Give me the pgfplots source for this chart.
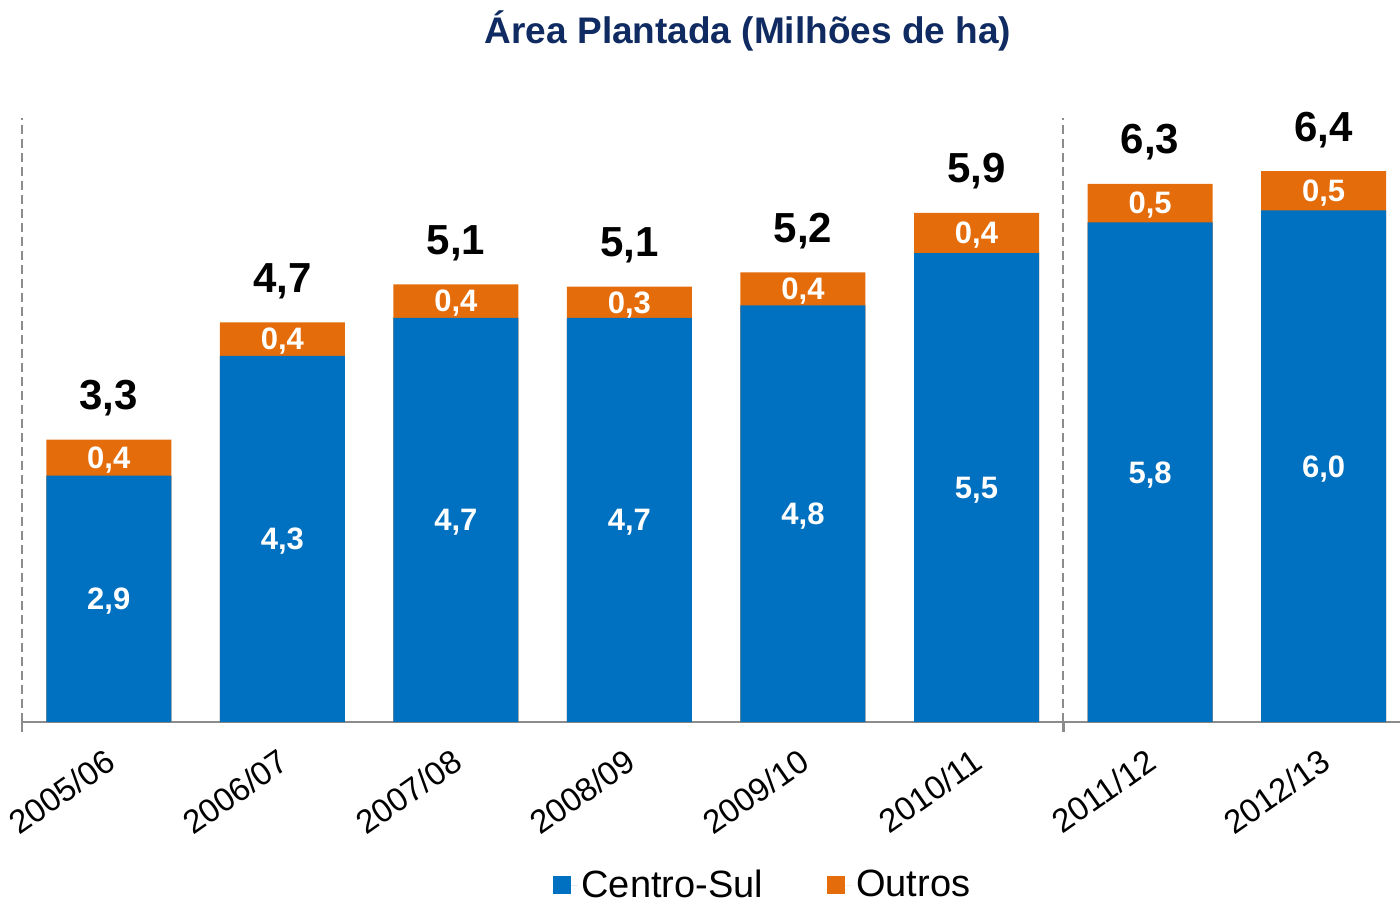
\documentclass[border=0pt]{standalone}
\usepackage{pgfplots}
\pgfplotsset{compat=1.18}
\usepackage{pgfplotstable}
\usepackage{fontspec}
\setmainfont{Liberation Sans}
\definecolor{csblue}{HTML}{0070C0}
\definecolor{ouorange}{HTML}{E46C0A}
\definecolor{titleblue}{HTML}{0F2B61}
\definecolor{axgray}{HTML}{8C8C8C}

\pgfplotstableread{
x cs cslab ou oulab tot totlab
0 2.88 2,9 0.42 0,4 3.30 3,3
1 4.28 4,3 0.39 0,4 4.67 4,7
2 4.725 4,7 0.39 0,4 5.115 5,1
3 4.725 4,7 0.363 0,3 5.088 5,1
4 4.87 4,8 0.385 0,4 5.255 5,2
5 5.48 5,5 0.47 0,4 5.95 5,9
6 5.84 5,8 0.45 0,5 6.29 6,3
7 5.98 6,0 0.46 0,5 6.44 6,4
}\data

\begin{document}
\begin{tikzpicture}
\path[use as bounding box] (0,0) rectangle (700pt,452pt);
\begin{axis}[
  at={(11pt,91pt)}, anchor=south west,
  scale only axis, width=689pt, height=302pt,
  ybar, bar width=62.5pt, bar shift=0pt,
  xmin=-0.5, xmax=7.44, ymin=0, ymax=7.06,
  axis x line*=bottom, axis y line=none,
  x axis line style={draw=axgray, line width=1.2pt},
  xtick={0,...,7},
  xticklabels={2005/06,2006/07,2007/08,2008/09,2009/10,2010/11,2011/12,2012/13},
  major tick length=0pt,
  xticklabel style={rotate=35, anchor=north east, font=\fontsize{16.5}{19}\selectfont, yshift=-5.5pt, xshift=-6pt},
  ytick=\empty,
  clip=false,
  legend columns=2,
  legend style={at={(axis description cs:0.538,-0.27)}, anchor=center, draw=none, fill=none,
    font=\fontsize{19}{22}\selectfont, /tikz/every even column/.append style={column sep=30pt}},
  legend image code/.code={\fill[#1] (0pt,-4.5pt) rectangle (9pt,4.5pt); \path (0pt,0pt) -- (12.5pt,0pt);},
  seglabel/.style={draw=none, fill=none, forget plot, point meta=explicit symbolic, nodes near coords,
    every node near coord/.append style={anchor=center, text=white, text depth=0pt, inner sep=0pt,
      font=\bfseries\fontsize{15.5}{18}\selectfont}},
]
% Outros sits on top of Centro-Sul: drawn from 0 to the total, Centro-Sul over it
\addplot[fill=ouorange, draw=none, forget plot] table[x=x, y=tot]{\data};
\addplot[fill=csblue, draw=none, forget plot] table[x=x, y=cs]{\data};
\addplot[seglabel] table[x=x, y expr=0.5*\thisrow{cs}, meta=cslab]{\data};
\addplot[seglabel] table[x=x, y expr=\thisrow{cs}+0.5*\thisrow{ou}, meta=oulab]{\data};
\addplot[draw=none, fill=none, forget plot, point meta=explicit symbolic, nodes near coords,
  every node near coord/.append style={anchor=base, inner sep=0pt, yshift=15pt, text=black,
    font=\bfseries\fontsize{21}{25}\selectfont}]
  table[x=x, y=tot, meta=totlab]{\data};
\addlegendimage{fill=csblue, draw=none}
\addlegendentry{Centro-Sul}
\addlegendimage{fill=ouorange, draw=none}
\addlegendentry{Outros}
\draw[axgray, line width=1pt, dash pattern=on 4.5pt off 2.5pt] (axis cs:-0.5,0) -- (axis cs:-0.5,7.06);
\draw[axgray, line width=1pt, dash pattern=on 4.5pt off 2.5pt] (axis cs:5.5,0) -- (axis cs:5.5,7.06);
\draw[axgray, line width=1.2pt] (axis cs:-0.5,0) -- ([yshift=-5pt]axis cs:-0.5,0);
\draw[axgray, line width=1.2pt] (axis cs:5.5,0) -- ([yshift=-5pt]axis cs:5.5,0);
\end{axis}
\node[anchor=base, text=titleblue, font=\bfseries\fontsize{18.5}{22}\selectfont] at (374pt,430pt) {Área Plantada (Milhões de ha)};
\end{tikzpicture}
\end{document}
